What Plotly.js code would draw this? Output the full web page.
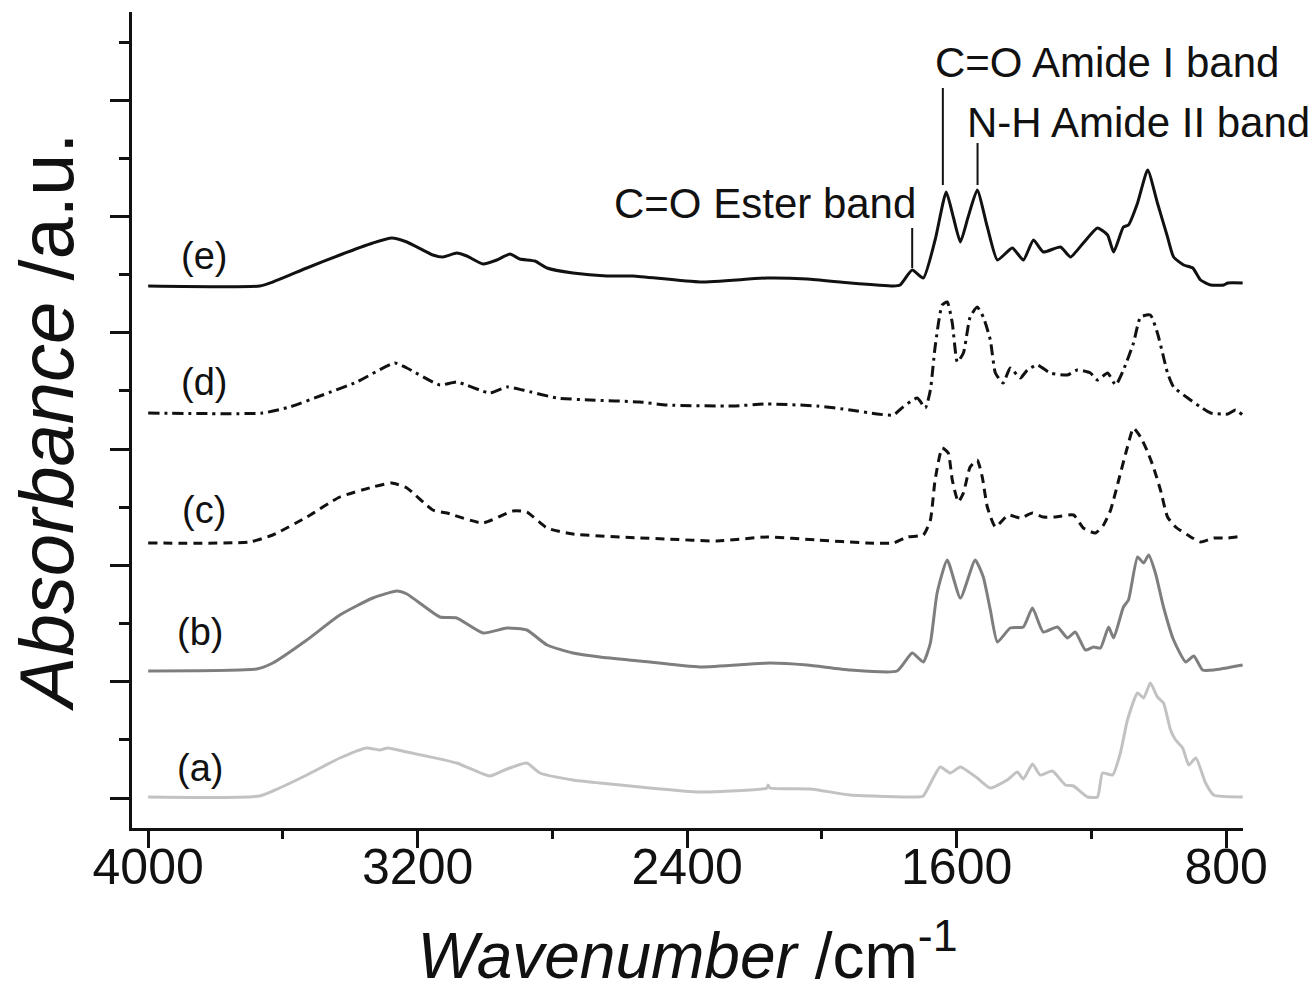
<!DOCTYPE html>
<html>
<head>
<meta charset="utf-8">
<script src="https://cdn.plot.ly/plotly-3.0.1.min.js"></script>
<style>html,body{margin:0;padding:0;background:#fff;}#chart{width:1314px;height:993px;}</style>
</head>
<body>
<div id="chart"></div>
<script>
// Wavenumber (cm-1) and stacked absorbance (a.u.)
const wnE = [4000,3669,3630,3529,3431,3333,3277,3232,3155,3125,3084,3054,3006,2965,2926,2897,2852,2816,2739,2638,2561,2362,2163,2044,1916,1788,1768,1732,1699,1664,1631,1610,1589,1566,1539,1509,1479,1435,1402,1372,1343,1292,1262,1224,1182,1152,1134,1105,1090,1063,1033,1004,974,956,926,899,876,846,807,795,751];
const absE = [5.12,5.12,5.16,5.30,5.43,5.55,5.60,5.56,5.43,5.41,5.45,5.42,5.34,5.38,5.44,5.39,5.37,5.30,5.25,5.22,5.22,5.16,5.20,5.19,5.15,5.12,5.13,5.28,5.20,5.58,6.06,5.81,5.56,5.81,6.08,5.71,5.38,5.50,5.38,5.58,5.46,5.51,5.41,5.55,5.70,5.63,5.46,5.71,5.73,5.95,6.28,5.95,5.61,5.41,5.33,5.30,5.18,5.13,5.13,5.15,5.15];

const wnD = [4000,3660,3580,3482,3381,3268,3232,3134,3084,2986,2935,2888,2787,2689,2540,2460,2264,2163,2014,1916,1836,1788,1759,1717,1693,1678,1664,1643,1628,1613,1598,1580,1560,1539,1521,1500,1485,1462,1441,1411,1390,1361,1322,1271,1242,1203,1182,1152,1128,1105,1075,1054,1025,1004,986,974,956,914,876,846,795,772,751];
const absD = [3.85,3.85,3.91,4.03,4.16,4.35,4.30,4.13,4.16,4.05,4.11,4.08,4.00,3.98,3.96,3.93,3.92,3.94,3.92,3.88,3.84,3.83,3.91,4.00,3.90,4.08,4.51,4.93,4.96,4.75,4.36,4.45,4.81,4.91,4.81,4.58,4.25,4.15,4.30,4.20,4.28,4.33,4.25,4.23,4.28,4.25,4.18,4.25,4.13,4.28,4.55,4.81,4.83,4.65,4.41,4.25,4.11,4.00,3.91,3.85,3.84,3.88,3.83];

const wnC = [4000,3699,3630,3529,3431,3333,3277,3232,3155,3113,3006,2917,2876,2816,2739,2540,2460,2311,2163,2014,1866,1788,1747,1699,1678,1664,1643,1625,1613,1595,1580,1560,1539,1524,1509,1485,1447,1411,1375,1343,1307,1253,1224,1188,1164,1143,1119,1093,1075,1054,1033,1016,995,974,950,914,876,837,795,751];
const absC = [2.55,2.56,2.63,2.81,3.01,3.11,3.15,3.10,2.88,2.85,2.75,2.87,2.86,2.70,2.64,2.60,2.59,2.57,2.61,2.58,2.55,2.55,2.61,2.63,2.78,3.18,3.50,3.45,3.18,2.96,3.05,3.31,3.38,3.21,2.91,2.71,2.83,2.80,2.85,2.81,2.81,2.83,2.70,2.65,2.73,2.88,3.18,3.51,3.70,3.61,3.46,3.31,3.08,2.81,2.71,2.63,2.56,2.60,2.60,2.62];

const wnB = [4000,3678,3630,3529,3431,3333,3262,3232,3134,3084,3006,2935,2876,2816,2739,2659,2540,2362,2154,2044,1916,1777,1732,1699,1678,1658,1628,1589,1545,1521,1500,1479,1441,1402,1375,1343,1301,1271,1248,1218,1194,1173,1149,1134,1105,1090,1063,1045,1030,1010,986,956,920,896,870,837,751];
const absB = [1.27,1.29,1.35,1.58,1.83,2.00,2.07,2.04,1.81,1.80,1.65,1.70,1.68,1.53,1.45,1.41,1.37,1.31,1.35,1.33,1.28,1.27,1.45,1.36,1.55,2.05,2.38,2.00,2.38,2.21,1.88,1.56,1.70,1.71,1.90,1.66,1.71,1.60,1.66,1.48,1.51,1.50,1.71,1.60,1.91,1.98,2.41,2.35,2.43,2.25,1.91,1.58,1.36,1.42,1.28,1.28,1.33];

const wnA = [4000,3669,3610,3529,3431,3351,3312,3289,3232,3084,2986,2935,2876,2837,2739,2659,2540,2362,2163,2160,2154,2035,1916,1717,1699,1649,1619,1589,1539,1500,1450,1420,1402,1375,1352,1316,1277,1253,1212,1182,1167,1137,1114,1093,1063,1045,1025,1004,986,965,950,929,911,890,861,837,751];
const absA = [0.01,0.02,0.10,0.23,0.40,0.50,0.48,0.50,0.46,0.35,0.22,0.29,0.35,0.25,0.18,0.15,0.11,0.06,0.10,0.13,0.10,0.09,0.03,0.01,0.02,0.31,0.25,0.31,0.20,0.10,0.18,0.26,0.19,0.34,0.23,0.27,0.13,0.12,0.01,0.01,0.25,0.23,0.45,0.78,1.05,1.00,1.15,1.01,0.95,0.68,0.58,0.50,0.33,0.40,0.15,0.03,0.01];

const seriesLabels = ['(a)','(b)','(c)','(d)','(e)'];
const labelWn = [3847,3847,3835,3835,3835];
const labelAbs = [0.30,1.66,2.88,4.16,5.42];

const bandNames = ['C=O Ester band','C=O Amide I band','N-H Amide II band'];
const bandWn = [1732,1641,1538];
const xTicks = [4000,3200,2400,1600,800];

const FONT = 'Liberation Sans, Arial, Helvetica, sans-serif';

function tr(x, y, color, dash) {
  return {x: x, y: y, type: 'scatter', mode: 'lines',
          line: {color: color, width: 3, dash: dash, shape: 'spline', smoothing: 0.5},
          hoverinfo: 'skip'};
}
const traces = [
  tr(wnA, absA, '#c2c2c2', 'solid'),
  tr(wnB, absB, '#7e7e7e', 'solid'),
  tr(wnC, absC, '#111111', '9px,6px'),
  tr(wnD, absD, '#111111', '11px,5px,3px,5px'),
  tr(wnE, absE, '#111111', 'solid')
];

const annotations = seriesLabels.map((t, i) => ({
  x: labelWn[i], y: labelAbs[i], xref: 'x', yref: 'y', text: t, showarrow: false,
  xanchor: 'center', yanchor: 'middle', font: {family: FONT, size: 38, color: '#111'}
}));
annotations.push({x: 1714, y: 5.95, xref: 'x', yref: 'y', text: bandNames[0], showarrow: false,
  xanchor: 'right', yanchor: 'middle', font: {family: FONT, size: 42, color: '#111'}});
annotations.push({x: 1670, y: 7.36, xref: 'x', yref: 'y', text: bandNames[1], showarrow: false,
  xanchor: 'left', yanchor: 'middle', font: {family: FONT, size: 42, color: '#111'}});
annotations.push({x: 1574, y: 6.76, xref: 'x', yref: 'y', text: bandNames[2], showarrow: false,
  xanchor: 'left', yanchor: 'middle', font: {family: FONT, size: 42, color: '#111'}});

const lineTop = [5.70, 7.10, 6.55];
const lineBottom = [5.30, 6.13, 6.13];
const shapes = bandWn.map((w, i) => ({
  type: 'line', xref: 'x', yref: 'y', x0: w, x1: w, y0: lineBottom[i], y1: lineTop[i],
  line: {color: '#111', width: 2}
}));

const layout = {
  width: 1314, height: 993,
  margin: {l: 132, r: 71, t: 12, b: 165},
  paper_bgcolor: '#fff', plot_bgcolor: '#fff',
  showlegend: false,
  font: {family: FONT, color: '#111'},
  xaxis: {
    range: [4048, 750], showline: true, linewidth: 3, linecolor: '#111',
    ticks: 'outside', ticklen: 17, tickwidth: 3, tickcolor: '#111',
    tickmode: 'array', tickvals: xTicks, ticktext: xTicks.map(String),
    ticklabelstandoff: -24,
    minor: {tickmode: 'linear', tick0: 800, dtick: 400, ticks: 'outside', ticklen: 8, tickwidth: 3, tickcolor: '#111', showgrid: false},
    showgrid: false, zeroline: false,
    tickfont: {family: FONT, size: 50, color: '#111'},
    title: {text: '<i>Wavenumber</i> /cm<sup>-1</sup>', font: {family: FONT, size: 64, color: '#111'}, standoff: 40}
  },
  yaxis: {
    range: [-0.30, 7.86], showline: true, linewidth: 3, linecolor: '#111',
    ticks: 'outside', ticklen: 19, tickwidth: 3, tickcolor: '#111',
    tickmode: 'linear', tick0: 0, dtick: 1.163, showticklabels: false,
    minor: {tickmode: 'linear', tick0: 0, dtick: 0.5815, ticks: 'outside', ticklen: 10, tickwidth: 3, tickcolor: '#111', showgrid: false},
    showgrid: false, zeroline: false,
    title: {text: '<i>Absorbance</i> /a.u.', font: {family: FONT, size: 76, color: '#111'}, standoff: 12}
  },
  annotations: annotations,
  shapes: shapes
};

Plotly.newPlot('chart', traces, layout, {staticPlot: true, displayModeBar: false});
</script>
</body>
</html>
